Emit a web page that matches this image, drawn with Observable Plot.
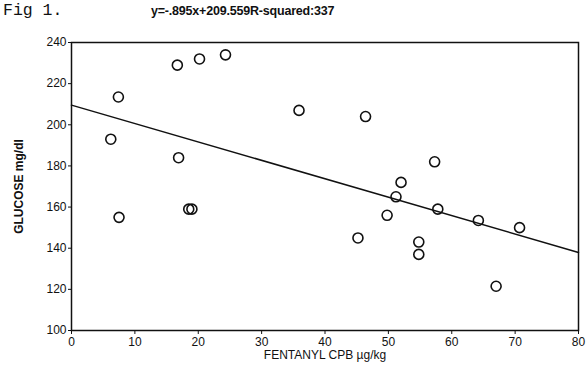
<!DOCTYPE html>
<html>
<head>
<meta charset="utf-8">
<script src="https://cdn.jsdelivr.net/npm/d3@7"></script>
<script src="https://cdn.jsdelivr.net/npm/@observablehq/plot@0.6"></script>
<style>
  body { margin: 0; background: #fff; }
  #wrap { position: relative; width: 588px; height: 369px; }
  #fig { position: absolute; left: 3px; top: 1px; font-family: "Liberation Mono", monospace; font-size: 16.5px; color: #111; }
  #title { position: absolute; left: 151px; top: 4px; font-family: "Liberation Sans", Arial, sans-serif; font-weight: bold; font-size: 12.5px; color: #111; letter-spacing: -0.2px; }
  #chart { position: absolute; left: 0; top: 0; }
  g[aria-label="y-axis label"] text { font-weight: bold; }
</style>
</head>
<body>
<div id="wrap">
  <div id="chart"></div>
  <div id="fig">Fig 1.</div>
  <div id="title">y=-.895x+209.559R-squared:337</div>
</div>
<script>
const fentanyl = [7.4, 6.2, 16.7, 20.2, 24.3, 16.9, 18.5, 19.0, 7.5, 35.9, 46.4, 57.3, 52.0, 51.2, 57.8, 64.2, 70.7, 49.8, 45.2, 54.8, 54.8, 67.0];
const glucose  = [213.5, 193, 229, 232, 234, 184, 159, 159, 155, 207, 204, 182, 172, 165, 159, 153.5, 150, 156, 145, 143, 137, 121.5];
const slope = -0.895;
const intercept = 209.559;
const xRange = [0, 80];
const yRange = [100, 240];
const xTicks = [0, 10, 20, 30, 40, 50, 60, 70, 80];
const yTicks = [100, 120, 140, 160, 180, 200, 220, 240];

const points = fentanyl.map((x, i) => ({x, y: glucose[i]}));
const fit = xRange.map(x => ({x, y: slope * x + intercept}));

const chart = Plot.plot({
  width: 588,
  height: 369,
  marginLeft: 71,
  marginRight: 10,
  marginTop: 42,
  marginBottom: 39,
  style: {fontFamily: "Liberation Sans, Arial, sans-serif", fontSize: "12px", color: "#111", background: "transparent"},
  x: {domain: xRange, ticks: xTicks, tickSize: 4, tickPadding: 3, label: "FENTANYL CPB µg/kg", labelArrow: "none", labelAnchor: "center", labelOffset: 28},
  y: {domain: yRange, ticks: yTicks, tickSize: 3, tickPadding: 2, label: "GLUCOSE mg/dl", labelArrow: "none", labelAnchor: "center", labelOffset: 57},
  marks: [
    Plot.frame({stroke: "#111", strokeWidth: 1.5}),
    Plot.line(fit, {x: "x", y: "y", stroke: "#111", strokeWidth: 1.5}),
    Plot.dot(points, {x: "x", y: "y", r: 5, stroke: "#111", strokeWidth: 1.6, fill: "none"})
  ]
});
document.getElementById("chart").appendChild(chart);
</script>
</body>
</html>
